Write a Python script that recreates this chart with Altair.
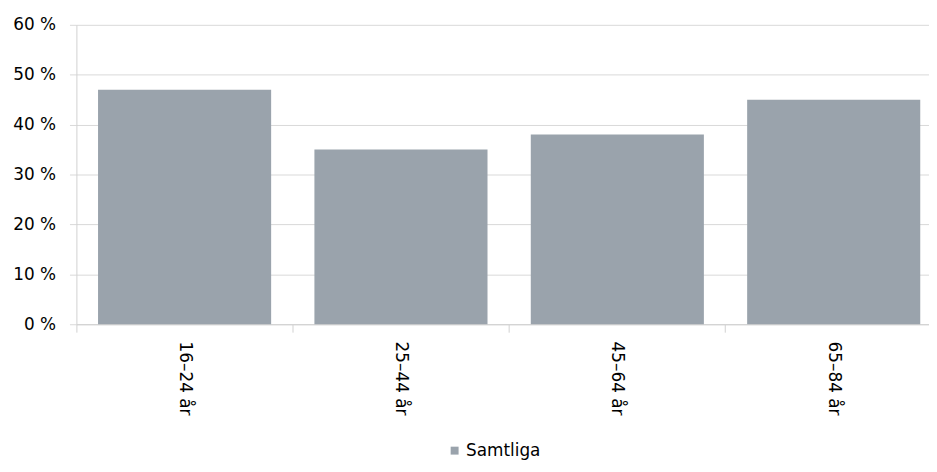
import altair as alt
import pandas as pd

categories = ["16–24 år", "25–44 år", "45–64 år", "65–84 år"]
values = [47, 35, 38, 45]
series = ["Samtliga", "Samtliga", "Samtliga", "Samtliga"]
y_ticks = [0, 10, 20, 30, 40, 50, 60]

df = pd.DataFrame({"Åldersgrupp": categories, "Andel": values, "Grupp": series})

FONT = "DejaVu Sans"
GRID = "#d9d9d9"

chart = alt.Chart(df).mark_bar(width=alt.RelativeBandSize(0.8)).encode(
    x=alt.X(
        "Åldersgrupp:N",
        sort=categories,
        title=None,
        scale=alt.Scale(paddingInner=0, paddingOuter=0, range=[0, 873]),
        axis=alt.Axis(
            labelAngle=90, bandPosition=0, ticks=True, tickSize=8,
            tickColor="#d0d0d0", domainColor="#d0d0d0", labelPadding=9,
            labelFontSize=17, labelColor="#000000", labelFont=FONT,
            grid=False, labelAlign="left", labelBaseline="middle",
        ),
    ),
    y=alt.Y(
        "Andel:Q",
        title=None,
        scale=alt.Scale(domain=[0, 60]),
        axis=alt.Axis(
            values=y_ticks, labelExpr="datum.value + ' %'", tickSize=7,
            tickColor=GRID, gridColor=GRID, domainColor="#d0d0d0",
            labelPadding=14, labelFontSize=17, labelFont=FONT,
            labelColor="#000000",
        ),
    ),
    color=alt.Color(
        "Grupp:N",
        scale=alt.Scale(range=["#9aa3ac"]),
        legend=alt.Legend(
            title=None, orient="none", legendX=373, legendY=421,
            symbolType="square", symbolSize=64, labelFontSize=17,
            labelFont=FONT, labelColor="#000000", symbolStrokeWidth=0,
            labelOffset=3,
        ),
    ),
).properties(
    width=860,
    height=302,
    padding={"left": 69, "top": 15, "right": 0, "bottom": 139},
    autosize=alt.AutoSizeParams(type="none"),
).configure_view(stroke=None)

chart.save("out.html", embed_options={"renderer": "svg", "actions": False})
